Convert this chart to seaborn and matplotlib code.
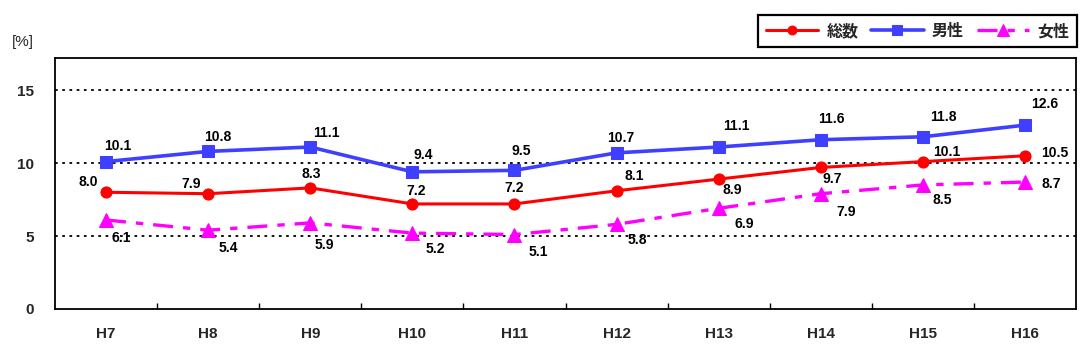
import matplotlib
matplotlib.use("Agg")
import matplotlib.pyplot as plt
import seaborn as sns
import numpy as np

# --- data ---
years = ["H7", "H8", "H9", "H10", "H11", "H12", "H13", "H14", "H15", "H16"]
total = [8.0, 7.9, 8.3, 7.2, 7.2, 8.1, 8.9, 9.7, 10.1, 10.5]
male = [10.1, 10.8, 11.1, 9.4, 9.5, 10.7, 11.1, 11.6, 11.8, 12.6]
female = [6.1, 5.4, 5.9, 5.2, 5.1, 5.8, 6.9, 7.9, 8.5, 8.7]
series_names = ["総数", "男性", "女性"]
y_ticks = [0, 5, 10, 15]

# ラベル位置 (pixel offset, 上が正)
total_off = [(-18, 10), (-17, 10), (1, 14), (4, 13), (0, 16),
             (18, 15), (14, -11), (11, -12), (24, 10), (30, 3)]
male_off = [(12, 16), (10, 14), (16, 14), (11, 17), (7, 19),
            (4, 15), (18, 21), (11, 21), (20, 20), (20, 21)]
female_off = [(15, -18), (20, -18), (14, -22), (23, -16), (24, -17),
              (21, -16), (26, -16), (25, -18), (19, -15), (26, -2)]

sns.set_theme(style="white")
plt.rcParams["font.family"] = ["Liberation Sans", "Noto Sans CJK JP", "DejaVu Sans"]
plt.rcParams["font.weight"] = "bold"

fig = plt.figure(figsize=(10.89, 3.52), dpi=100)
ax = fig.add_axes([0.0505, 0.1222, 0.9376, 0.713])

x = np.arange(len(years))

styles = [
    dict(data=total, color="#FF0000", marker="o", ms=8, lw=2.2, dashes=None, off=total_off),
    dict(data=male, color="#3F3FFF", marker="s", ms=9, lw=2.6, dashes=None, off=male_off),
    dict(data=female, color="#FF00FF", marker="^", ms=10, lw=2.4,
         dashes=(6.0, 3.0, 2.2, 3.0), off=female_off),
]

for name, st in zip(series_names, styles):
    sns.lineplot(x=x, y=st["data"], ax=ax, color=st["color"], marker=st["marker"],
                 markersize=st["ms"], markeredgecolor=st["color"], linewidth=st["lw"],
                 label=name, zorder=3)
    line = ax.lines[-1]
    if st["dashes"] is not None:
        line.set_dashes(st["dashes"])
    for xi, v, off in zip(x, st["data"], st["off"]):
        ax.annotate(f"{v:.1f}", (xi, v), textcoords="offset pixels", xytext=off,
                    ha="center", va="center", fontsize=10, fontweight="bold", color="black")

ax.set_xlim(-0.5, len(years) - 0.5)
ax.set_ylim(0, 17.2)
ax.set_yticks(y_ticks)
ax.set_yticklabels([str(t) for t in y_ticks], fontsize=11, fontweight="bold")
ax.set_xticks(x)
ax.set_xticklabels(years, fontsize=11, fontweight="bold")
ax.tick_params(axis="x", length=0, pad=13)
ax.tick_params(axis="y", length=0, pad=15)
# 区切りの目盛
ax.set_xticks(np.arange(0.5, len(years) - 1, 1), minor=True)
ax.tick_params(axis="x", which="minor", direction="in", length=4, width=1, color="black", bottom=True)

for yv in [5, 10, 15]:
    ax.axhline(yv, color="black", linestyle=(0, (1.5, 2.5)), linewidth=1.3, zorder=1)

for sp in ax.spines.values():
    sp.set_color("black")
    sp.set_linewidth(1.3)

fig.text(0.011, 0.88, "[%]", fontsize=11, fontweight="normal", ha="left", va="center")

leg = ax.legend(loc="upper right", bbox_to_anchor=(1.009, 1.203), ncol=3, frameon=True,
                fancybox=False, edgecolor="black", framealpha=1, handlelength=3.3,
                columnspacing=0.8, handletextpad=0.5, borderpad=0.5, markerscale=0.8,
                prop={"family": ["Noto Sans CJK JP"], "weight": "bold", "size": 11.5})
leg.get_frame().set_linewidth(1.6)

ax.set_xlabel("")
ax.set_ylabel("")
fig.savefig("out.png", dpi=100)
